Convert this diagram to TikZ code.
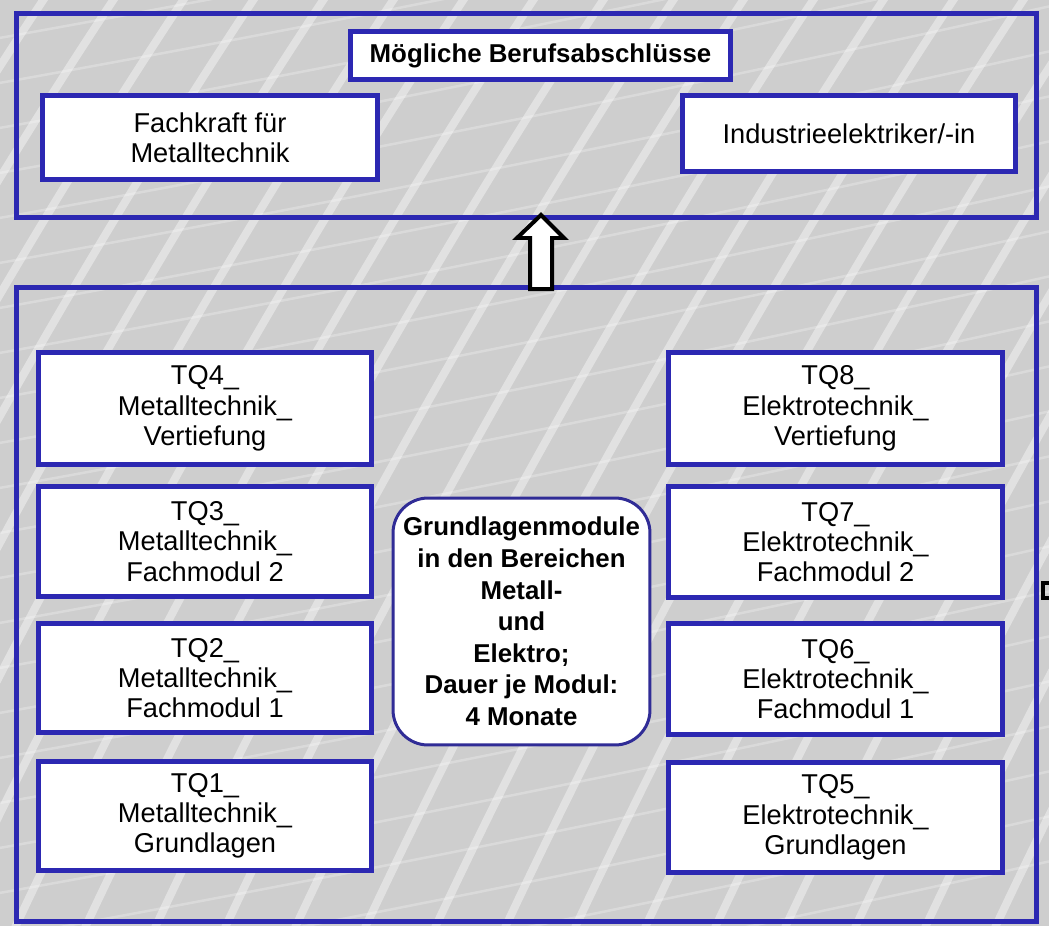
\documentclass[tikz,border=0pt]{standalone}
\usepackage{fontspec}
\setmainfont{Liberation Sans}
\usepackage{tikz}
\usetikzlibrary{positioning}

\definecolor{rahmenblau}{RGB}{44,40,178}
\definecolor{rundblau}{RGB}{48,44,150}
\definecolor{hgrund}{RGB}{206,206,206}

\tikzset{
    frame/.style={draw=rahmenblau, line width=0.1cm},
    modul/.style={draw=rahmenblau, line width=0.1cm, fill=white, align=center,
        font=\fontsize{15.5}{17.2}\selectfont},
    texture/.style={white, line width=0.16cm, opacity=0.4}
}

\begin{document}
\begin{tikzpicture}[x=0.02cm,y=-0.02cm]
        \useasboundingbox (0,0) rectangle (1049,926);
        \fill[hgrund] (0,0) rectangle (1049,926);
        % Hintergrundmuster
        \foreach \i in {-12,...,20}
            \draw[texture] (\i*70,960) .. controls (\i*70+120,700) and (\i*70+330,300) .. (\i*70+560,-40);
        \foreach \i in {-4,...,24}
            \draw[texture, opacity=0.25, line width=0.05cm] (-40,\i*45) .. controls (300,\i*45-60) and (700,\i*45-140) .. (1100,\i*45-230);

        % oberer Bereich
        \node[frame, minimum width=20.42cm, minimum height=4.1cm] (oben) at (526.5,115.5) {};
        \node[modul, font=\bfseries\fontsize{14.7}{17}\selectfont, minimum width=7.62cm, minimum height=0.98cm] (titel) at (540.5,55.5) {Mögliche Berufsabschlüsse};
        \node[modul, minimum width=6.72cm, minimum height=1.7cm] (fachkraft) at (210,137.5) {Fachkraft für\\Metalltechnik};
        \node[modul, minimum width=6.68cm, minimum height=1.54cm] (industrie) at (849,133.5) {Industrieelektriker/-in};

        % unterer Bereich
        \node[frame, minimum width=20.42cm, minimum height=12.7cm] (unten) at (526.5,604.5) {};
        \draw[line width=0.08cm] (1043,583) rectangle (1070,598);

        \draw[line width=0.08cm, fill=white] (530,289) -- (530,238) -- (517,238) -- (541,215)
            -- (564,238) -- (552,238) -- (552,289) -- cycle;

        \node[modul, minimum width=6.68cm, minimum height=2.24cm] (tqvier) at (205,408.5) {TQ4\_\\Metalltechnik\_\\Vertiefung};
        \node[modul, minimum width=6.68cm, minimum height=2.22cm] (tqdrei) at (205,541.5) {TQ3\_\\Metalltechnik\_\\Fachmodul 2};
        \node[modul, minimum width=6.68cm, minimum height=2.2cm] (tqzwei) at (205,678) {TQ2\_\\Metalltechnik\_\\Fachmodul 1};
        \node[modul, minimum width=6.68cm, minimum height=2.2cm] (tqeins) at (205,816) {TQ1\_\\Metalltechnik\_\\Grundlagen};

        \node[modul, minimum width=6.7cm, minimum height=2.24cm] (tqacht) at (835.5,408.5) {TQ8\_\\Elektrotechnik\_\\Vertiefung};
        \node[modul, minimum width=6.7cm, minimum height=2.24cm] (tqsieben) at (835.5,542) {TQ7\_\\Elektrotechnik\_\\Fachmodul 2};
        \node[modul, minimum width=6.7cm, minimum height=2.24cm] (tqsechs) at (835.5,679) {TQ6\_\\Elektrotechnik\_\\Fachmodul 1};
        \node[modul, minimum width=6.7cm, minimum height=2.22cm] (tqfuenf) at (835.5,817.5) {TQ5\_\\Elektrotechnik\_\\Grundlagen};

        \node[draw=rundblau, line width=0.06cm, fill=white, rounded corners=0.7cm, align=center,
            minimum width=5.14cm, minimum height=4.94cm, inner sep=0pt,
            font=\bfseries\fontsize{14.7}{18}\selectfont] (grundlagen) at (521.5,621.5)
            {Grundlagenmodule\\in den Bereichen\\Metall-\\und\\Elektro;\\Dauer je Modul:\\4 Monate};
    \end{tikzpicture}
\end{document}
